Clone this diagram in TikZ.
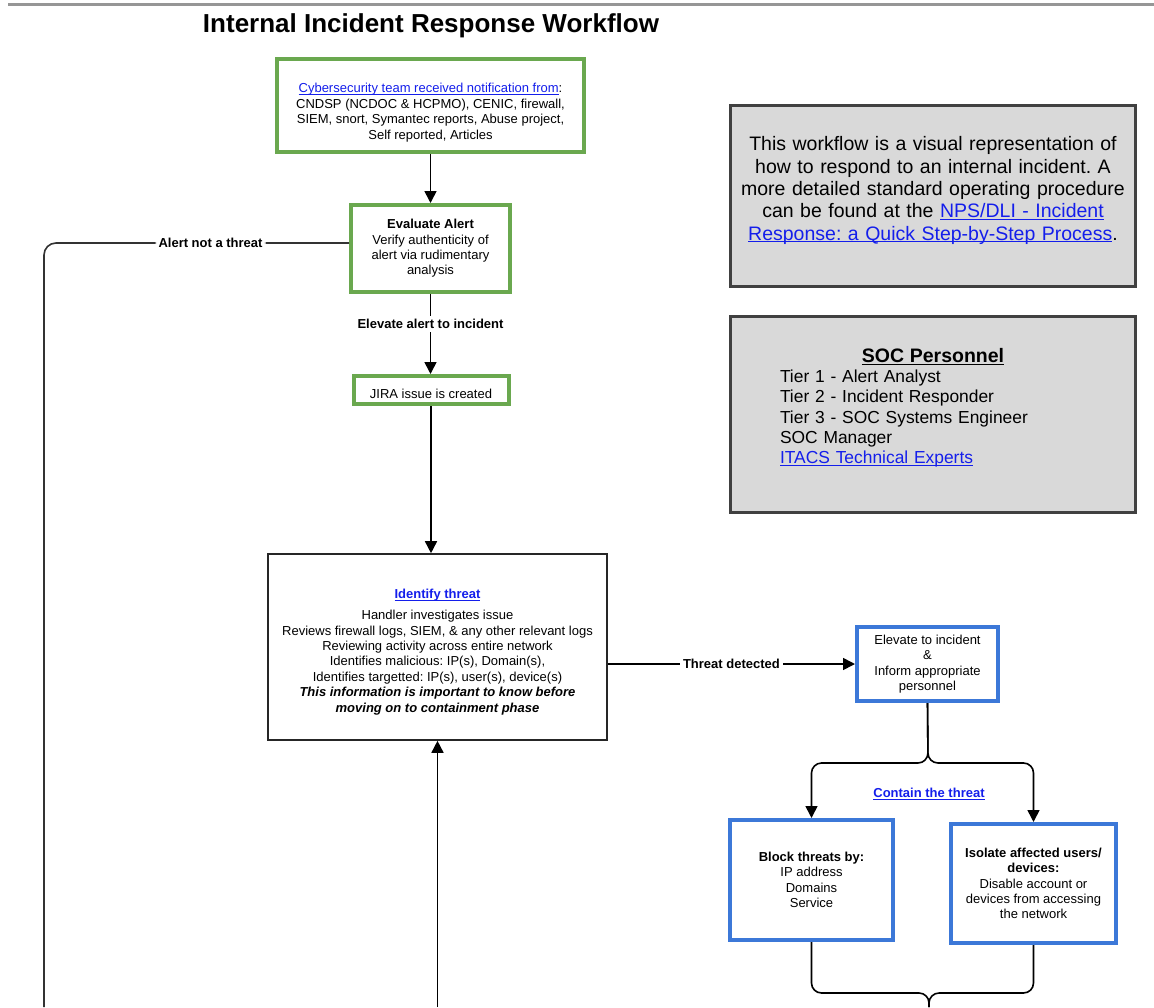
\documentclass[tikz,border=0pt]{standalone}
\usepackage{fontspec}
\setmainfont{Liberation Sans}
\usetikzlibrary{arrows.meta}
\frenchspacing

\definecolor{boxgreen}{RGB}{106,168,79}
\definecolor{boxblue}{RGB}{60,120,216}
\definecolor{notefill}{RGB}{217,217,217}
\definecolor{noteedge}{RGB}{64,64,64}
\definecolor{linkblue}{RGB}{20,30,235}
\definecolor{ruleline}{RGB}{150,150,150}

% underline set just below the baseline, whatever the descenders
\newcommand{\baseul}[1]{\setbox0\hbox{#1}\rlap{\rule[-2.2pt]{\wd0}{0.9pt}}\box0}
% hyperlink look, and invisible struts to pad a line's height or depth
\newcommand{\lnk}[1]{\textcolor{linkblue}{\baseul{#1}}}
\newcommand{\deep}[1]{\rule[-#1]{0pt}{#1}}
\newcommand{\tall}[1]{\rule{0pt}{#1}}

\tikzset{
  box/.style={inner sep=0pt, align=center, fill=white,
              font=\fontsize{13}{15.4}\selectfont},
  greenbox/.style={box, draw=boxgreen, line width=4pt},
  bluebox/.style={box, draw=boxblue, line width=4pt},
  plainbox/.style={box, draw=black!85, line width=1.6pt},
  notebox/.style={draw=noteedge, fill=notefill, line width=3pt, inner sep=0pt},
  conn/.style={line width=1.6pt, draw=black},
  arr/.style={conn, -{Triangle[length=12pt,width=12pt]}},
  lbl/.style={fill=white, inner sep=3pt, font=\bfseries\fontsize{13}{15}\selectfont},
}

\begin{document}
\begin{tikzpicture}[x=1pt, y=-1pt]
\useasboundingbox (0,0) rectangle (1154,1007);

% header rule and title
\draw[ruleline, line width=3pt] (8,4.5) -- (1154,4.5);
\node[anchor=base, font=\bfseries\fontsize{26}{30}\selectfont] (title) at (431,32.5)
  {Internal Incident Response Workflow};

% main flow boxes
\node[greenbox, minimum width=307pt, minimum height=93pt] (notify) at (430.5,105.5)
  {\tall{23.5pt}\lnk{Cybersecurity team received notification from}:\\
   CNDSP (NCDOC \& HCPMO), CENIC, firewall,\\
   SIEM, snort, Symantec reports, Abuse project,\\
   Self reported, Articles};

\node[greenbox, minimum width=159pt, minimum height=87pt] (evaluate) at (430.5,248.5)
  {\textbf{Evaluate Alert}\\
   Verify authenticity of\\
   alert via rudimentary\\
   analysis};

\node[greenbox, minimum width=155pt, minimum height=28pt] (jira) at (431,390)
  {\tall{17pt}JIRA issue is created};

\node[plainbox, minimum width=339pt, minimum height=186pt] (identify) at (437.5,647)
  {\tall{19.5pt}\lnk{\textbf{Identify threat}}\\[5.5pt]
   Handler investigates issue\\
   Reviews firewall logs, SIEM, \& any other relevant logs\\
   Reviewing activity across entire network\\
   Identifies malicious: IP(s), Domain(s),\\
   Identifies targetted: IP(s), user(s), device(s)\\
   \textbf{\textit{This information is important to know before}}\\
   \textbf{\textit{moving on to containment phase}}};

\node[bluebox, minimum width=141pt, minimum height=74pt] (elevate) at (927.5,664)
  {Elevate to incident\\
   \&\\
   Inform appropriate\\
   personnel};

\node[bluebox, minimum width=163pt, minimum height=120pt] (block) at (811.5,880)
  {\textbf{Block threats by:}\\
   IP address\\
   Domains\\
   Service};

\node[bluebox, minimum width=165pt, minimum height=119pt] (isolate) at (1033.5,883.5)
  {\textbf{Isolate affected users/}\\
   \textbf{devices:}\\
   Disable account or\\
   devices from accessing\\
   the network};

\node[font=\bfseries\fontsize{13}{15}\selectfont] (contain) at (929,794)
  {\lnk{Contain the threat}};

% information panels
\node[notebox, minimum width=404.5pt, minimum height=181pt, align=center,
      text width=395pt, font=\fontsize{19.5}{22.3}\selectfont] (about) at (933,196)
  {This workflow is a visual representation of\\
   how to respond to an internal incident. A\\
   more detailed standard operating procedure\\
   can be found at the \lnk{NPS/DLI - Incident}\\
   \lnk{Response: a Quick Step-by-Step Process}.\deep{15pt}};

\node[notebox, minimum width=405pt, minimum height=196pt, text width=306pt,
      font=\fontsize{17.4}{20.3}\selectfont] (staff) at (933,414.5)
  {{\centering\fontsize{19.5}{21}\selectfont\bfseries\baseul{SOC Personnel}\par}
   \raggedright
   Tier 1 - Alert Analyst\\
   Tier 2 - Incident Responder\\
   Tier 3 - SOC Systems Engineer\\
   SOC Manager\\
   \lnk{ITACS Technical Experts}\deep{17pt}};

% loose ends and junctions of the connectors
\coordinate (backcorner) at (44,243);
\coordinate (backend) at (44,1007);
\coordinate (loopin) at (437.5,1007);
\coordinate (splitjoin) at (928,763);
\coordinate (mergejoin) at (929,993);
\coordinate (mergeout) at (929,1007);

% connectors
\draw[arr] (notify.south) -- (evaluate.north);
\draw[arr] (evaluate.south) -- node[lbl, pos=0.375] {Elevate alert to incident}
  (evaluate.south |- jira.north);
\draw[arr] (jira.south) -- (jira.south |- identify.north);
\draw[conn, draw=black!80, rounded corners=12pt] ([yshift=5.5pt]evaluate.west)
  -- node[lbl, pos=0.454] {Alert not a threat} (backcorner) -- (backend);
\draw[arr] (loopin) -- (identify.south);
\draw[arr] (identify.east |- elevate.west) -- node[lbl, pos=0.5] {Threat detected}
  (elevate.west);
\draw[arr, rounded corners=10pt] (elevate.south) -- (splitjoin) -| (block.north);
\draw[arr, rounded corners=10pt] (elevate.south) -- (splitjoin) -| (isolate.north);
\draw[conn, rounded corners=10pt] (block.south) |- (mergejoin) -- (mergeout);
\draw[conn, rounded corners=10pt] (isolate.south) |- (mergejoin) -- (mergeout);

\end{tikzpicture}
\end{document}
